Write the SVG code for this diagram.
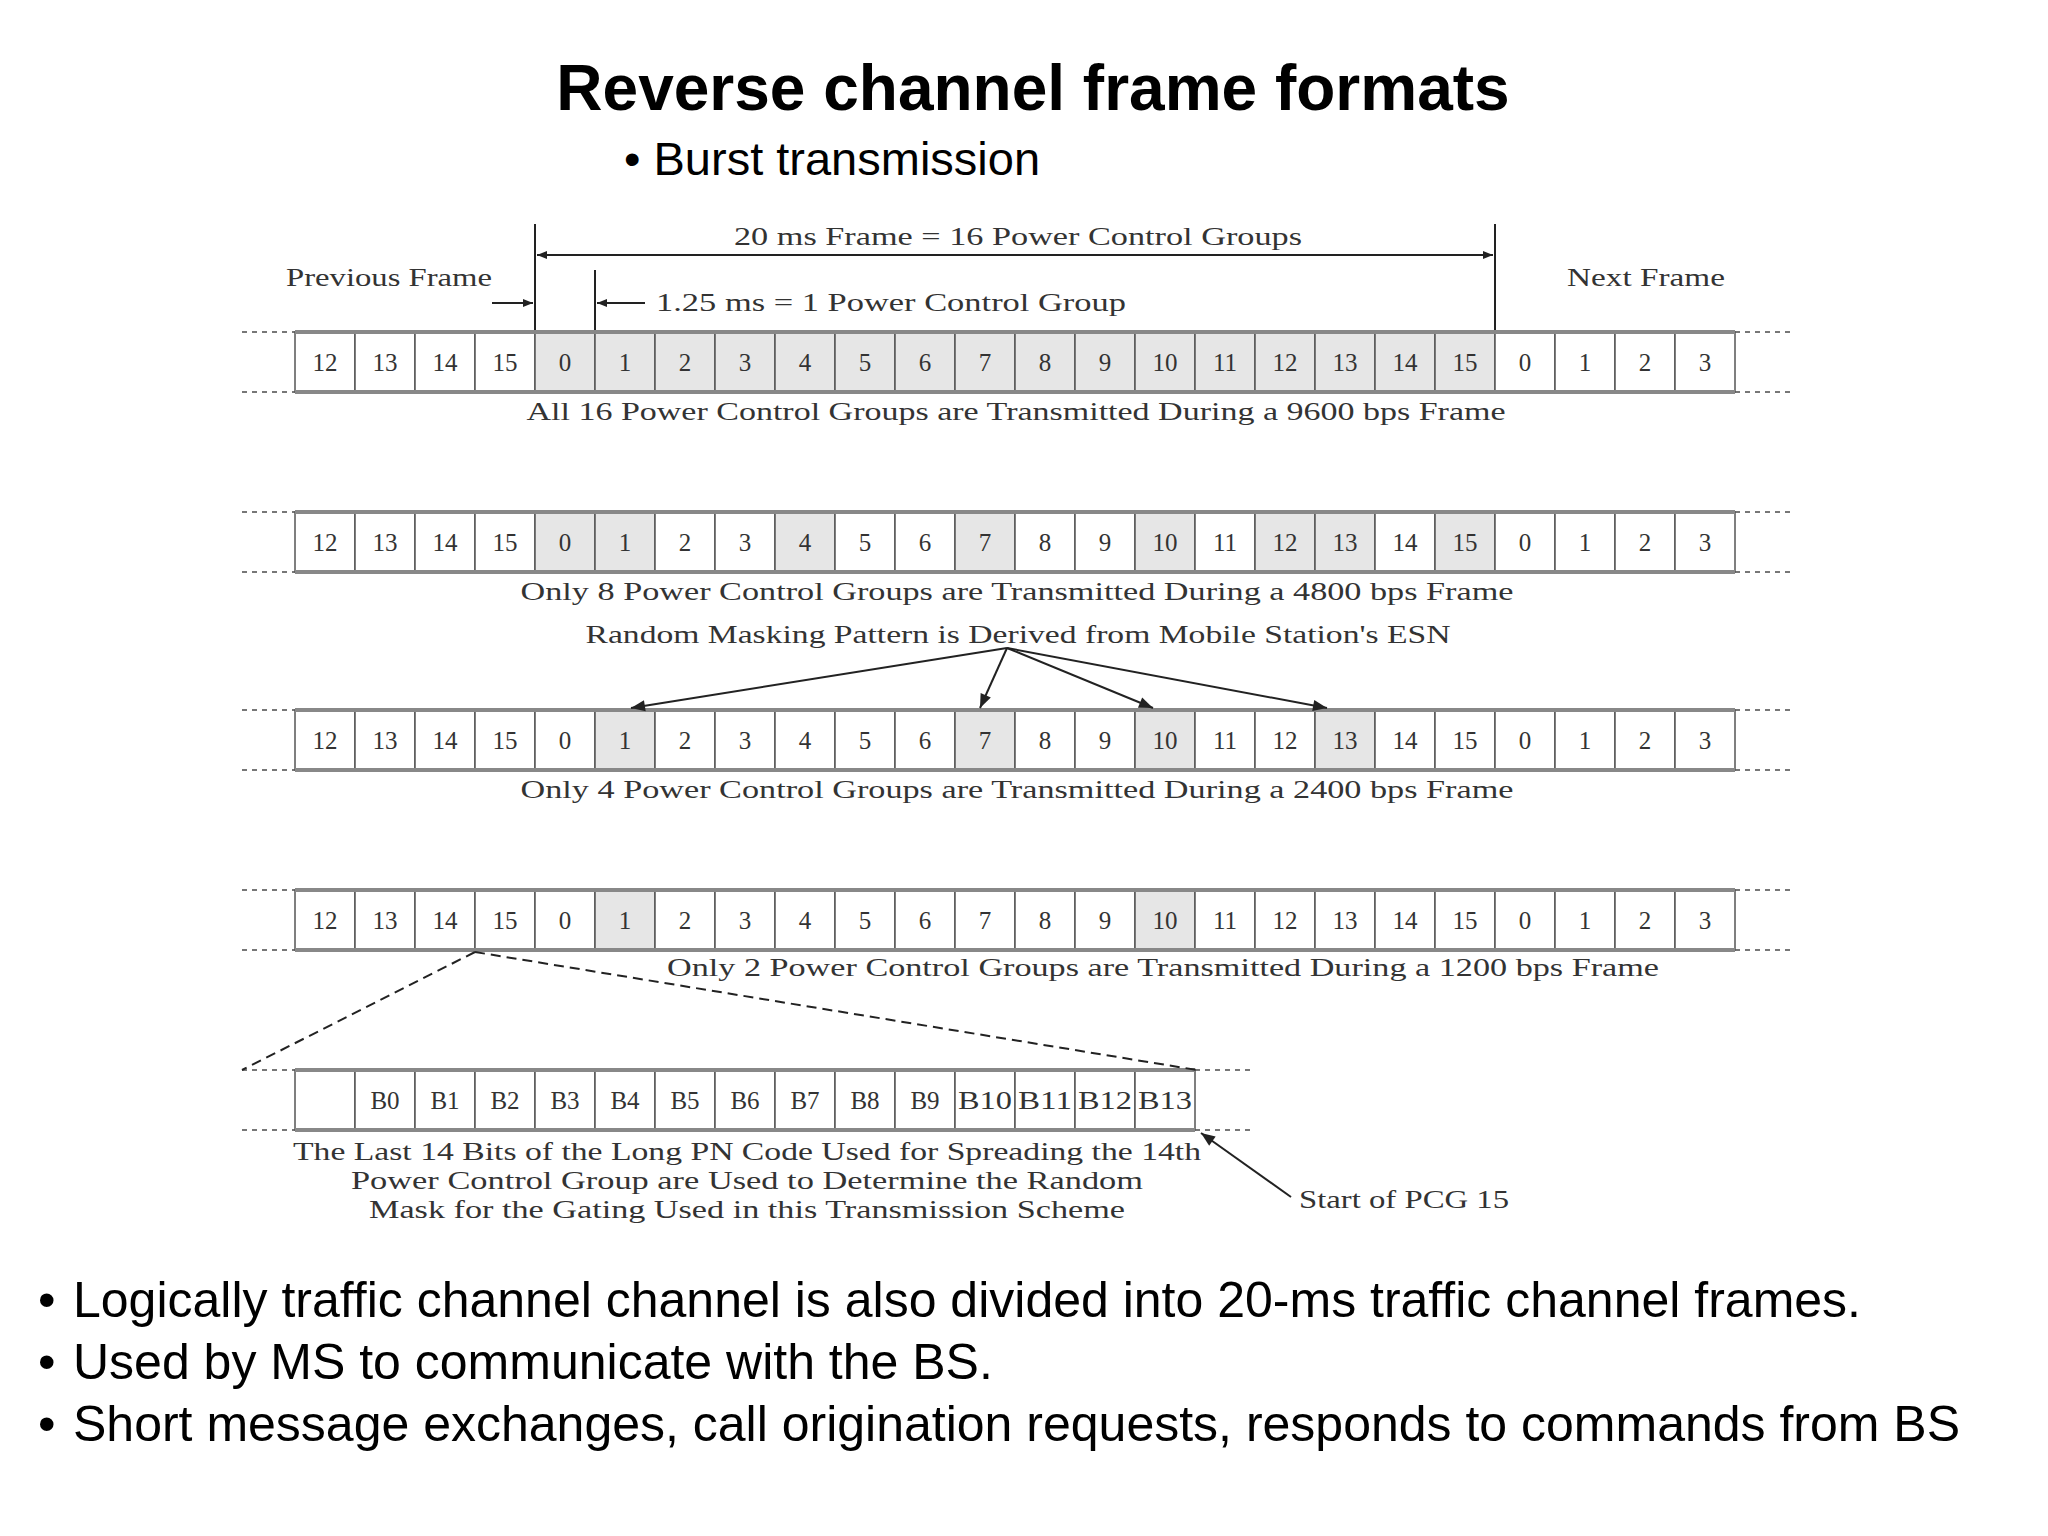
<svg xmlns="http://www.w3.org/2000/svg" width="2048" height="1536" viewBox="0 0 2048 1536">
<defs>
<style>
.s{font-family:"Liberation Serif","DejaVu Serif",serif;fill:#333;}
.n{font-size:25px;text-anchor:middle;}
.c{font-size:26px;}
.h{font-family:"Liberation Sans",Arial,sans-serif;fill:#000;}
.cell{fill:#fff;stroke:#555;stroke-width:1.5;}
.sh{fill:#e6e6e6;}
.edge{stroke:#888;stroke-width:4;}
.dot{stroke:#777;stroke-width:2;stroke-dasharray:5 5;}
.ln{stroke:#222;stroke-width:2;fill:none;}
</style>
<marker id="ah" viewBox="0 0 10 10" refX="10" refY="5" markerWidth="10" markerHeight="10" markerUnits="userSpaceOnUse" orient="auto-start-reverse"><path d="M0,1 L10,5 L0,9 z" fill="#222"/></marker>
<marker id="ab" viewBox="0 0 10 10" refX="10" refY="5" markerWidth="16" markerHeight="14" markerUnits="userSpaceOnUse" orient="auto"><path d="M0,1 L10,5 L0,9 z" fill="#222"/></marker>
</defs>
<rect width="2048" height="1536" fill="#fff"/>
<text class="h" x="1033" y="110" font-size="64" font-weight="bold" text-anchor="middle">Reverse channel frame formats</text>
<text class="h" x="624" y="175" font-size="47">• Burst transmission</text>

<g id="annot">
<line class="ln" x1="535" y1="224" x2="535" y2="332"/>
<line class="ln" x1="1495" y1="224" x2="1495" y2="332"/>
<line class="ln" x1="595" y1="270" x2="595" y2="332"/>
<line class="ln" x1="537" y1="255" x2="1493" y2="255" marker-start="url(#ah)" marker-end="url(#ah)"/>
<text class="s c" x="1018" y="245" text-anchor="middle" textLength="568" lengthAdjust="spacingAndGlyphs">20 ms Frame = 16 Power Control Groups</text>
<text class="s c" x="286" y="286" textLength="206" lengthAdjust="spacingAndGlyphs">Previous Frame</text>
<text class="s c" x="1567" y="286" textLength="158" lengthAdjust="spacingAndGlyphs">Next Frame</text>
<line class="ln" x1="492" y1="303" x2="533" y2="303" marker-end="url(#ah)"/>
<line class="ln" x1="645" y1="303" x2="597" y2="303" marker-end="url(#ah)"/>
<text class="s c" x="656" y="311" textLength="470" lengthAdjust="spacingAndGlyphs">1.25 ms = 1 Power Control Group</text>
</g>

<g id="row1" transform="translate(0,332)">
<line class="dot" x1="242" y1="0" x2="295" y2="0"/><line class="dot" x1="242" y1="60" x2="295" y2="60"/><line class="dot" x1="1735" y1="0" x2="1795" y2="0"/><line class="dot" x1="1735" y1="60" x2="1795" y2="60"/>
<rect class="cell" x="295" y="0" width="60" height="60"/><rect class="cell" x="355" y="0" width="60" height="60"/><rect class="cell" x="415" y="0" width="60" height="60"/><rect class="cell" x="475" y="0" width="60" height="60"/>
<rect class="cell sh" x="535" y="0" width="60" height="60"/><rect class="cell sh" x="595" y="0" width="60" height="60"/><rect class="cell sh" x="655" y="0" width="60" height="60"/><rect class="cell sh" x="715" y="0" width="60" height="60"/><rect class="cell sh" x="775" y="0" width="60" height="60"/><rect class="cell sh" x="835" y="0" width="60" height="60"/><rect class="cell sh" x="895" y="0" width="60" height="60"/><rect class="cell sh" x="955" y="0" width="60" height="60"/><rect class="cell sh" x="1015" y="0" width="60" height="60"/><rect class="cell sh" x="1075" y="0" width="60" height="60"/><rect class="cell sh" x="1135" y="0" width="60" height="60"/><rect class="cell sh" x="1195" y="0" width="60" height="60"/><rect class="cell sh" x="1255" y="0" width="60" height="60"/><rect class="cell sh" x="1315" y="0" width="60" height="60"/><rect class="cell sh" x="1375" y="0" width="60" height="60"/><rect class="cell sh" x="1435" y="0" width="60" height="60"/>
<rect class="cell" x="1495" y="0" width="60" height="60"/><rect class="cell" x="1555" y="0" width="60" height="60"/><rect class="cell" x="1615" y="0" width="60" height="60"/><rect class="cell" x="1675" y="0" width="60" height="60"/>
<line class="edge" x1="295" y1="0" x2="1735" y2="0"/><line class="edge" x1="295" y1="60" x2="1735" y2="60"/>
<g class="s n"><text x="325" y="39">12</text><text x="385" y="39">13</text><text x="445" y="39">14</text><text x="505" y="39">15</text><text x="565" y="39">0</text><text x="625" y="39">1</text><text x="685" y="39">2</text><text x="745" y="39">3</text><text x="805" y="39">4</text><text x="865" y="39">5</text><text x="925" y="39">6</text><text x="985" y="39">7</text><text x="1045" y="39">8</text><text x="1105" y="39">9</text><text x="1165" y="39">10</text><text x="1225" y="39">11</text><text x="1285" y="39">12</text><text x="1345" y="39">13</text><text x="1405" y="39">14</text><text x="1465" y="39">15</text><text x="1525" y="39">0</text><text x="1585" y="39">1</text><text x="1645" y="39">2</text><text x="1705" y="39">3</text></g>
<text class="s c" x="1016" y="88" text-anchor="middle" textLength="979" lengthAdjust="spacingAndGlyphs">All 16 Power Control Groups are Transmitted During a 9600 bps Frame</text>
</g>

<g id="row2" transform="translate(0,512)">
<line class="dot" x1="242" y1="0" x2="295" y2="0"/><line class="dot" x1="242" y1="60" x2="295" y2="60"/><line class="dot" x1="1735" y1="0" x2="1795" y2="0"/><line class="dot" x1="1735" y1="60" x2="1795" y2="60"/>
<rect class="cell" x="295" y="0" width="60" height="60"/><rect class="cell" x="355" y="0" width="60" height="60"/><rect class="cell" x="415" y="0" width="60" height="60"/><rect class="cell" x="475" y="0" width="60" height="60"/>
<rect class="cell sh" x="535" y="0" width="60" height="60"/><rect class="cell sh" x="595" y="0" width="60" height="60"/><rect class="cell" x="655" y="0" width="60" height="60"/><rect class="cell" x="715" y="0" width="60" height="60"/><rect class="cell sh" x="775" y="0" width="60" height="60"/><rect class="cell" x="835" y="0" width="60" height="60"/><rect class="cell" x="895" y="0" width="60" height="60"/><rect class="cell sh" x="955" y="0" width="60" height="60"/><rect class="cell" x="1015" y="0" width="60" height="60"/><rect class="cell" x="1075" y="0" width="60" height="60"/><rect class="cell sh" x="1135" y="0" width="60" height="60"/><rect class="cell" x="1195" y="0" width="60" height="60"/><rect class="cell sh" x="1255" y="0" width="60" height="60"/><rect class="cell sh" x="1315" y="0" width="60" height="60"/><rect class="cell" x="1375" y="0" width="60" height="60"/><rect class="cell sh" x="1435" y="0" width="60" height="60"/>
<rect class="cell" x="1495" y="0" width="60" height="60"/><rect class="cell" x="1555" y="0" width="60" height="60"/><rect class="cell" x="1615" y="0" width="60" height="60"/><rect class="cell" x="1675" y="0" width="60" height="60"/>
<line class="edge" x1="295" y1="0" x2="1735" y2="0"/><line class="edge" x1="295" y1="60" x2="1735" y2="60"/>
<g class="s n"><text x="325" y="39">12</text><text x="385" y="39">13</text><text x="445" y="39">14</text><text x="505" y="39">15</text><text x="565" y="39">0</text><text x="625" y="39">1</text><text x="685" y="39">2</text><text x="745" y="39">3</text><text x="805" y="39">4</text><text x="865" y="39">5</text><text x="925" y="39">6</text><text x="985" y="39">7</text><text x="1045" y="39">8</text><text x="1105" y="39">9</text><text x="1165" y="39">10</text><text x="1225" y="39">11</text><text x="1285" y="39">12</text><text x="1345" y="39">13</text><text x="1405" y="39">14</text><text x="1465" y="39">15</text><text x="1525" y="39">0</text><text x="1585" y="39">1</text><text x="1645" y="39">2</text><text x="1705" y="39">3</text></g>
<text class="s c" x="1017" y="88" text-anchor="middle" textLength="993" lengthAdjust="spacingAndGlyphs">Only 8 Power Control Groups are Transmitted During a 4800 bps Frame</text>
<text class="s c" x="1018" y="131" text-anchor="middle" textLength="865" lengthAdjust="spacingAndGlyphs">Random Masking Pattern is Derived from Mobile Station's ESN</text>
</g>

<g id="row3" transform="translate(0,710)">
<line class="dot" x1="242" y1="0" x2="295" y2="0"/><line class="dot" x1="242" y1="60" x2="295" y2="60"/><line class="dot" x1="1735" y1="0" x2="1795" y2="0"/><line class="dot" x1="1735" y1="60" x2="1795" y2="60"/>
<rect class="cell" x="295" y="0" width="60" height="60"/><rect class="cell" x="355" y="0" width="60" height="60"/><rect class="cell" x="415" y="0" width="60" height="60"/><rect class="cell" x="475" y="0" width="60" height="60"/>
<rect class="cell" x="535" y="0" width="60" height="60"/><rect class="cell sh" x="595" y="0" width="60" height="60"/><rect class="cell" x="655" y="0" width="60" height="60"/><rect class="cell" x="715" y="0" width="60" height="60"/><rect class="cell" x="775" y="0" width="60" height="60"/><rect class="cell" x="835" y="0" width="60" height="60"/><rect class="cell" x="895" y="0" width="60" height="60"/><rect class="cell sh" x="955" y="0" width="60" height="60"/><rect class="cell" x="1015" y="0" width="60" height="60"/><rect class="cell" x="1075" y="0" width="60" height="60"/><rect class="cell sh" x="1135" y="0" width="60" height="60"/><rect class="cell" x="1195" y="0" width="60" height="60"/><rect class="cell" x="1255" y="0" width="60" height="60"/><rect class="cell sh" x="1315" y="0" width="60" height="60"/><rect class="cell" x="1375" y="0" width="60" height="60"/><rect class="cell" x="1435" y="0" width="60" height="60"/>
<rect class="cell" x="1495" y="0" width="60" height="60"/><rect class="cell" x="1555" y="0" width="60" height="60"/><rect class="cell" x="1615" y="0" width="60" height="60"/><rect class="cell" x="1675" y="0" width="60" height="60"/>
<line class="edge" x1="295" y1="0" x2="1735" y2="0"/><line class="edge" x1="295" y1="60" x2="1735" y2="60"/>
<g class="s n"><text x="325" y="39">12</text><text x="385" y="39">13</text><text x="445" y="39">14</text><text x="505" y="39">15</text><text x="565" y="39">0</text><text x="625" y="39">1</text><text x="685" y="39">2</text><text x="745" y="39">3</text><text x="805" y="39">4</text><text x="865" y="39">5</text><text x="925" y="39">6</text><text x="985" y="39">7</text><text x="1045" y="39">8</text><text x="1105" y="39">9</text><text x="1165" y="39">10</text><text x="1225" y="39">11</text><text x="1285" y="39">12</text><text x="1345" y="39">13</text><text x="1405" y="39">14</text><text x="1465" y="39">15</text><text x="1525" y="39">0</text><text x="1585" y="39">1</text><text x="1645" y="39">2</text><text x="1705" y="39">3</text></g>
<text class="s c" x="1017" y="88" text-anchor="middle" textLength="993" lengthAdjust="spacingAndGlyphs">Only 4 Power Control Groups are Transmitted During a 2400 bps Frame</text>
</g>

<g id="row4" transform="translate(0,890)">
<line class="dot" x1="242" y1="0" x2="295" y2="0"/><line class="dot" x1="242" y1="60" x2="295" y2="60"/><line class="dot" x1="1735" y1="0" x2="1795" y2="0"/><line class="dot" x1="1735" y1="60" x2="1795" y2="60"/>
<rect class="cell" x="295" y="0" width="60" height="60"/><rect class="cell" x="355" y="0" width="60" height="60"/><rect class="cell" x="415" y="0" width="60" height="60"/><rect class="cell" x="475" y="0" width="60" height="60"/>
<rect class="cell" x="535" y="0" width="60" height="60"/><rect class="cell sh" x="595" y="0" width="60" height="60"/><rect class="cell" x="655" y="0" width="60" height="60"/><rect class="cell" x="715" y="0" width="60" height="60"/><rect class="cell" x="775" y="0" width="60" height="60"/><rect class="cell" x="835" y="0" width="60" height="60"/><rect class="cell" x="895" y="0" width="60" height="60"/><rect class="cell" x="955" y="0" width="60" height="60"/><rect class="cell" x="1015" y="0" width="60" height="60"/><rect class="cell" x="1075" y="0" width="60" height="60"/><rect class="cell sh" x="1135" y="0" width="60" height="60"/><rect class="cell" x="1195" y="0" width="60" height="60"/><rect class="cell" x="1255" y="0" width="60" height="60"/><rect class="cell" x="1315" y="0" width="60" height="60"/><rect class="cell" x="1375" y="0" width="60" height="60"/><rect class="cell" x="1435" y="0" width="60" height="60"/>
<rect class="cell" x="1495" y="0" width="60" height="60"/><rect class="cell" x="1555" y="0" width="60" height="60"/><rect class="cell" x="1615" y="0" width="60" height="60"/><rect class="cell" x="1675" y="0" width="60" height="60"/>
<line class="edge" x1="295" y1="0" x2="1735" y2="0"/><line class="edge" x1="295" y1="60" x2="1735" y2="60"/>
<g class="s n"><text x="325" y="39">12</text><text x="385" y="39">13</text><text x="445" y="39">14</text><text x="505" y="39">15</text><text x="565" y="39">0</text><text x="625" y="39">1</text><text x="685" y="39">2</text><text x="745" y="39">3</text><text x="805" y="39">4</text><text x="865" y="39">5</text><text x="925" y="39">6</text><text x="985" y="39">7</text><text x="1045" y="39">8</text><text x="1105" y="39">9</text><text x="1165" y="39">10</text><text x="1225" y="39">11</text><text x="1285" y="39">12</text><text x="1345" y="39">13</text><text x="1405" y="39">14</text><text x="1465" y="39">15</text><text x="1525" y="39">0</text><text x="1585" y="39">1</text><text x="1645" y="39">2</text><text x="1705" y="39">3</text></g>
<text class="s c" x="1163" y="86" text-anchor="middle" textLength="992" lengthAdjust="spacingAndGlyphs">Only 2 Power Control Groups are Transmitted During a 1200 bps Frame</text>
</g>

<g id="bits" transform="translate(0,1070)">
<line class="dot" x1="242" y1="0" x2="295" y2="0"/><line class="dot" x1="242" y1="60" x2="295" y2="60"/><line class="dot" x1="1195" y1="0" x2="1254" y2="0"/><line class="dot" x1="1195" y1="60" x2="1254" y2="60"/>
<rect class="cell" x="295" y="0" width="60" height="60"/><rect class="cell" x="355" y="0" width="60" height="60"/><rect class="cell" x="415" y="0" width="60" height="60"/><rect class="cell" x="475" y="0" width="60" height="60"/><rect class="cell" x="535" y="0" width="60" height="60"/><rect class="cell" x="595" y="0" width="60" height="60"/><rect class="cell" x="655" y="0" width="60" height="60"/><rect class="cell" x="715" y="0" width="60" height="60"/><rect class="cell" x="775" y="0" width="60" height="60"/><rect class="cell" x="835" y="0" width="60" height="60"/><rect class="cell" x="895" y="0" width="60" height="60"/><rect class="cell" x="955" y="0" width="60" height="60"/><rect class="cell" x="1015" y="0" width="60" height="60"/><rect class="cell" x="1075" y="0" width="60" height="60"/><rect class="cell" x="1135" y="0" width="60" height="60"/>
<line class="edge" x1="295" y1="0" x2="1195" y2="0"/><line class="edge" x1="295" y1="60" x2="1195" y2="60"/>
<g class="s n" font-size="24"><text x="385" y="39">B0</text><text x="445" y="39">B1</text><text x="505" y="39">B2</text><text x="565" y="39">B3</text><text x="625" y="39">B4</text><text x="685" y="39">B5</text><text x="745" y="39">B6</text><text x="805" y="39">B7</text><text x="865" y="39">B8</text><text x="925" y="39">B9</text><text x="985" y="39" textLength="54" lengthAdjust="spacingAndGlyphs">B10</text><text x="1045" y="39" textLength="54" lengthAdjust="spacingAndGlyphs">B11</text><text x="1105" y="39" textLength="54" lengthAdjust="spacingAndGlyphs">B12</text><text x="1165" y="39" textLength="54" lengthAdjust="spacingAndGlyphs">B13</text></g>
<g class="s c" text-anchor="middle">
<text x="747" y="90" textLength="908" lengthAdjust="spacingAndGlyphs">The Last 14 Bits of the Long PN Code Used for Spreading the 14th</text>
<text x="747" y="119" textLength="792" lengthAdjust="spacingAndGlyphs">Power Control Group are Used to Determine the Random</text>
<text x="747" y="148" textLength="756" lengthAdjust="spacingAndGlyphs">Mask for the Gating Used in this Transmission Scheme</text>
</g>
<text class="s c" x="1299" y="138" textLength="210" lengthAdjust="spacingAndGlyphs">Start of PCG 15</text>
</g>

<g id="connectors">
<line class="ln" x1="1007" y1="648" x2="631" y2="708" marker-end="url(#ab)"/>
<line class="ln" x1="1007" y1="648" x2="980" y2="708" marker-end="url(#ab)"/>
<line class="ln" x1="1007" y1="648" x2="1153" y2="708" marker-end="url(#ab)"/>
<line class="ln" x1="1007" y1="648" x2="1327" y2="708" marker-end="url(#ab)"/>
<line class="ln" x1="475" y1="952" x2="242" y2="1070" stroke-dasharray="10 6"/>
<line class="ln" x1="475" y1="952" x2="1197" y2="1070" stroke-dasharray="10 6"/>
<line class="ln" x1="1291" y1="1197" x2="1201" y2="1133" marker-end="url(#ab)"/>
</g>

<g class="h" font-size="50">
<text x="38" y="1317">•</text><text x="73" y="1317">Logically traffic channel channel is also divided into 20-ms traffic channel frames.</text>
<text x="38" y="1379">•</text><text x="73" y="1379">Used by MS to communicate with the BS.</text>
<text x="38" y="1441">•</text><text x="73" y="1441">Short message exchanges, call origination requests, responds to commands from BS</text>
</g>
</svg>
